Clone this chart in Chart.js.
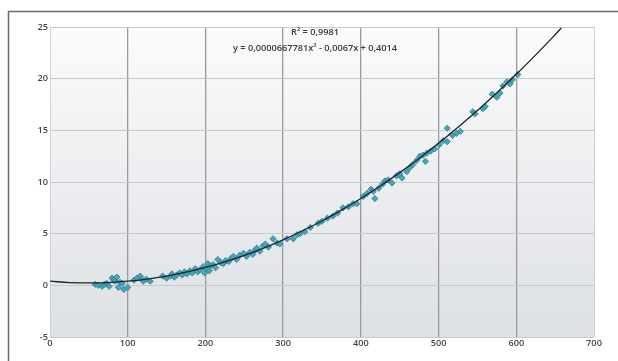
<!DOCTYPE html>
<html>
<head>
<meta charset="utf-8">
<script src="https://cdn.jsdelivr.net/npm/chart.js@4/dist/chart.umd.min.js"></script>
<style>
html,body{margin:0;padding:0;background:#fff;}
#wrap{position:relative;width:618px;height:361px;}
canvas{display:block;}
</style>
</head>
<body>
<div id="wrap"><canvas id="c" width="618" height="361"></canvas></div>
<script>
// Scatter data
const pointX = [58,62,67,70,73,76,80,82,84,86,88,90,93,95,100,108,112,116,118,120,124,129,
  145,150,155,157,160,163,167,170,173,176,180,183,187,190,193,197,199,201,203,205,207,210,213,216,220,223,226,230,233,236,240,244,249,253,257,261,264,266,270,274,277,281,287,292,296,
  305,313,318,322,328,335,345,350,357,364,370,377,384,390,395,403,408,413,416,418,423,428,431,435,440,446,450,453,459,463,467,472,476,480,483,485,490,495,
  501,506,511,511,518,523,528,544,547,557,560,569,575,579,583,588,592,595,602];
const pointY = [0.1,0.0,-0.1,0.1,0.2,-0.1,0.7,0.5,0.4,0.8,-0.2,0.3,0.2,-0.4,-0.2,0.5,0.7,0.9,0.6,0.4,0.6,0.4,
  0.9,0.7,0.9,1.1,0.8,1.0,1.2,1.0,1.3,1.1,1.4,1.2,1.6,1.3,1.5,1.8,1.2,1.6,2.1,1.4,1.9,2.0,1.7,2.5,2.2,2.1,2.4,2.3,2.6,2.8,2.5,2.9,3.1,2.8,3.2,3.0,3.4,3.6,3.3,3.8,4.0,3.7,4.5,4.1,4.0,
  4.5,4.5,4.9,5.0,5.2,5.6,6.0,6.2,6.5,6.7,7.0,7.5,7.6,7.9,7.9,8.6,8.9,9.3,9.1,8.4,9.4,9.8,10.1,10.2,9.9,10.6,10.8,10.4,11.0,11.4,11.7,12.1,12.5,12.6,12.0,12.8,13.0,13.2,
  13.6,14.0,15.2,13.9,14.5,14.7,14.9,16.8,16.6,17.1,17.3,18.5,18.2,18.6,19.3,19.7,19.5,19.9,20.4];

// Trend line points
const trendX = [0,25,50,75,100,125,150,175,200,225,250,275,300,325,350,375,400,425,450,475,500,525,550,575,600,625,650,658];
const trendY = [0.40,0.27,0.23,0.27,0.40,0.61,0.90,1.27,1.73,2.27,2.90,3.61,4.40,5.28,6.23,7.28,8.41,9.62,10.91,12.28,13.74,15.29,16.91,18.63,20.42,22.30,24.25,24.90];

const xTicks = [0,100,200,300,400,500,600,700];
const yTicks = [-5,0,5,10,15,20,25];
const labelR2 = "R² = 0,9981";
const labelEq = "y = 0,0000667781x² - 0,0067x + 0,4014";

const scatterData = pointX.map((x,i)=>({x:x,y:pointY[i]}));
const trendData = trendX.map((x,i)=>({x:x,y:trendY[i]}));

const bgPlugin = {
  id:'bg',
  beforeDraw(chart){
    const {ctx, chartArea:a} = chart;
    const g = ctx.createLinearGradient(0,a.top,0,a.bottom);
    g.addColorStop(0,'#fbfbfc');
    g.addColorStop(1,'#dde0e4');
    ctx.save();
    ctx.fillStyle = g;
    ctx.fillRect(a.left,a.top,a.right-a.left,a.bottom-a.top);
    ctx.restore();
  },
  afterDraw(chart){
    const {ctx} = chart;
    ctx.save();
    ctx.strokeStyle = '#6a6a6a';
    ctx.lineWidth = 1.5;
    ctx.beginPath();
    ctx.moveTo(8.5,361);
    ctx.lineTo(8.5,11.5);
    ctx.lineTo(618,11.5);
    ctx.stroke();
    // annotation text
    const xs = chart.scales.x;
    ctx.fillStyle = '#3a3a3a';
    ctx.textAlign = 'center';
    ctx.textBaseline = 'middle';
    ctx.font = '600 9.2px "Open Sans", sans-serif';
    const cx = xs.getPixelForValue(341);
    ctx.fillText(labelR2, cx, 32);
    ctx.fillText(labelEq, cx, 48);
    ctx.restore();
  }
};

new Chart(document.getElementById('c'), {
  type:'scatter',
  data:{
    datasets:[
      {
        type:'line',
        data:trendData,
        borderColor:'#1e2326',
        borderWidth:1.3,
        pointRadius:0,
        tension:0.4,
        fill:false,
        order:0
      },
      {
        data:scatterData,
        pointStyle:'rectRot',
        pointRadius:3.1,
        backgroundColor:'#45a6ba',
        borderColor:'#2a7d90',
        borderWidth:0.8,
        order:1
      }
    ]
  },
  options:{
    responsive:false,
    animation:false,
    layout:{padding:{left:0,right:24,top:27,bottom:0}},
    plugins:{legend:{display:false},tooltip:{enabled:false}},
    scales:{
      x:{
        type:'linear',min:0,max:700,
        afterBuildTicks(s){ s.ticks = xTicks.map(v=>({value:v})); },
        afterFit(s){ s.height = 24; },
        border:{display:false},
        grid:{
          drawTicks:false,
          color:(c)=> (c.tick && (c.tick.value===0 || c.tick.value===700)) ? '#cfd2d6' : '#9a9a9a',
          lineWidth:(c)=> (c.tick && (c.tick.value===0 || c.tick.value===700)) ? 1 : 1.3
        },
        ticks:{padding:1,color:'#444',font:{family:'"Open Sans", sans-serif',size:9.2,weight:'600'}}
      },
      y:{
        type:'linear',min:-5,max:25,
        afterBuildTicks(s){ s.ticks = yTicks.map(v=>({value:v})); },
        afterFit(s){ s.width = 50; },
        border:{display:false},
        grid:{drawTicks:false,color:'#c6c9cd',lineWidth:1},
        ticks:{padding:2,color:'#444',font:{family:'"Open Sans", sans-serif',size:9.2,weight:'600'}}
      }
    }
  },
  plugins:[bgPlugin]
});
</script>
</body>
</html>
